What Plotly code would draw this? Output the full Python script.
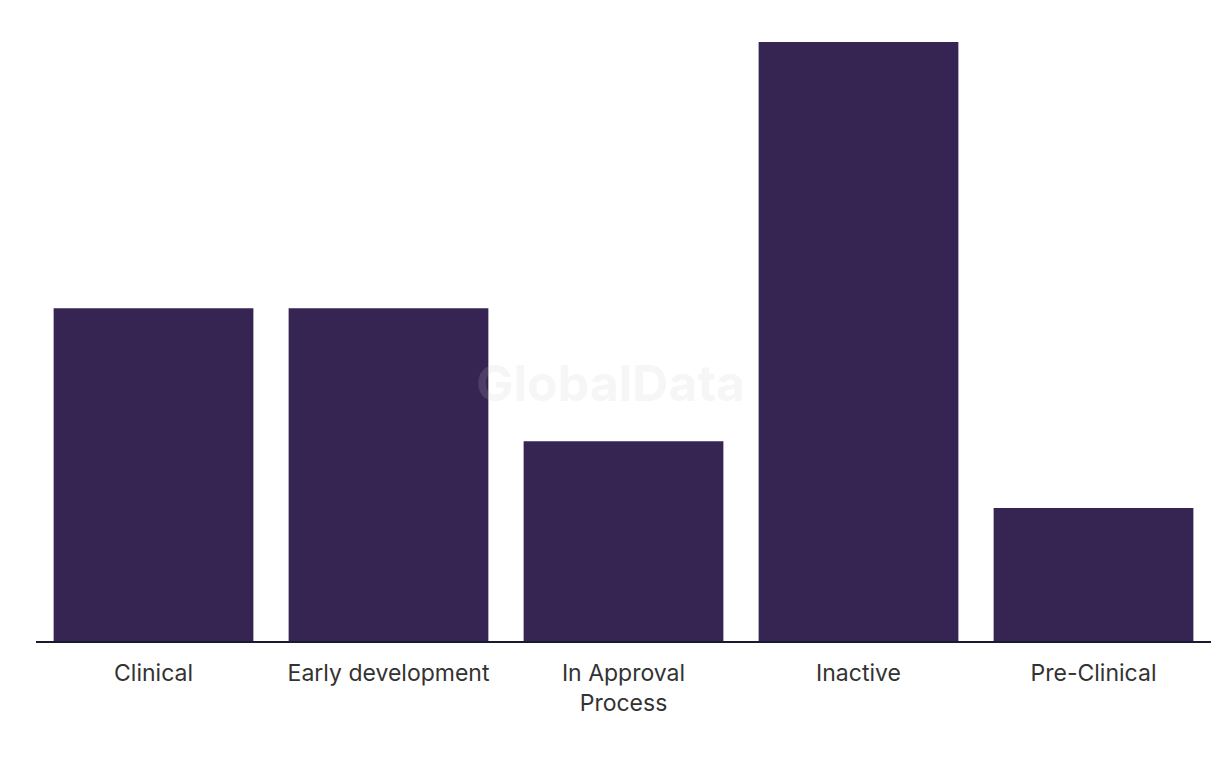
import plotly.graph_objects as go

categories = ["Clinical", "Early development", "In Approval<br>Process", "Inactive", "Pre-Clinical"]
values = [5, 5, 3, 9, 2]

fig = go.Figure(go.Bar(
    x=categories, y=values,
    marker=dict(color="#362452", line=dict(width=0)),
    hoverinfo="x+y",
))

fig.update_layout(
    width=1220, height=766,
    margin=dict(l=28, r=17, t=34, b=133),
    paper_bgcolor="white", plot_bgcolor="white",
    bargap=0.15,
    showlegend=False,
    font=dict(family="Inter, Roboto, sans-serif", size=23, color="#333333"),
    xaxis=dict(showline=True, linecolor="#1a1a2e", linewidth=2, ticks="",
               ticklabelstandoff=10,
               tickfont=dict(size=23, color="#333333"), showgrid=False),
    yaxis=dict(range=[0, 9], visible=False, showgrid=False, zeroline=False),
    annotations=[dict(text="<b>GlobalData</b>", xref="paper", yref="paper", x=0.489, y=0.43,
                      showarrow=False, font=dict(size=50, color="rgba(200,200,200,0.16)",
                                                 family="Inter, Roboto, sans-serif"))],
)

fig.write_html("out.html")
